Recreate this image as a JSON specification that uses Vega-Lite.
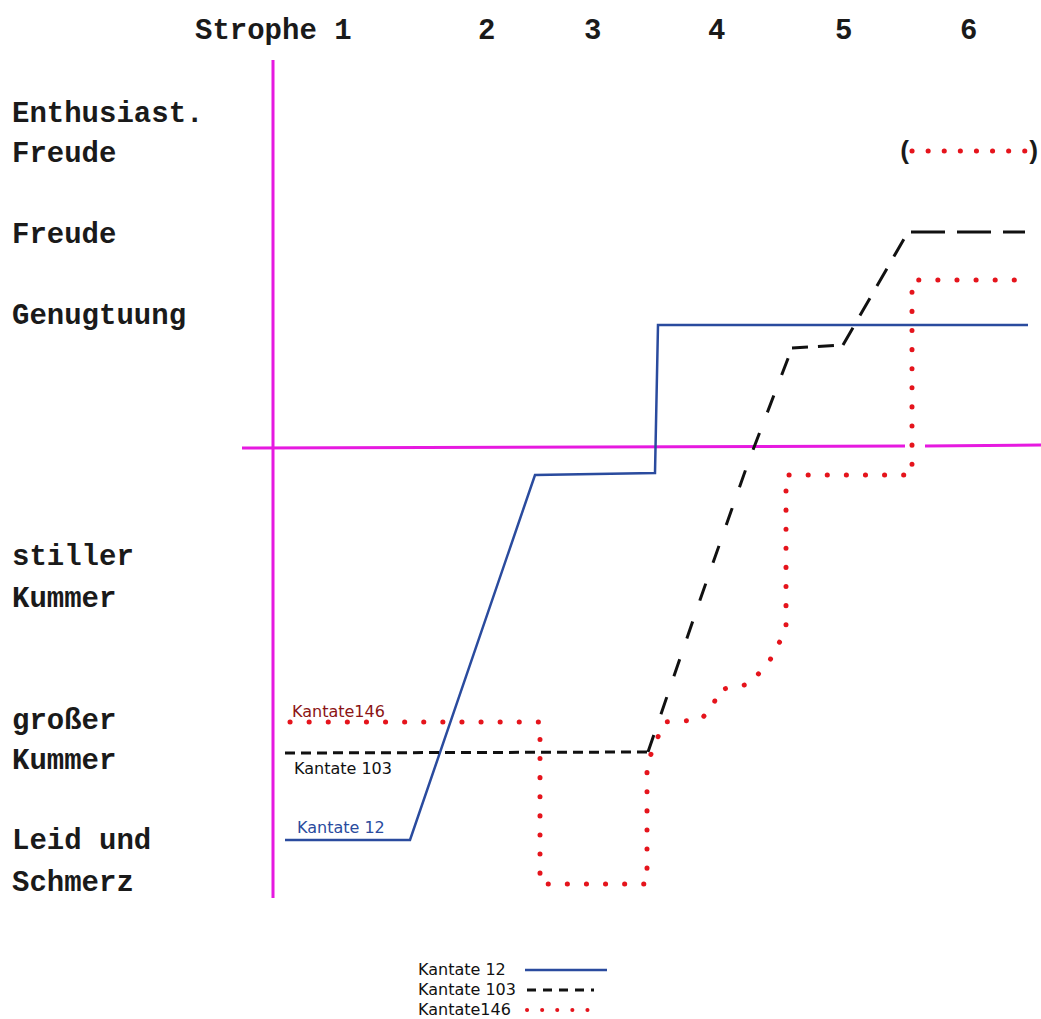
{
  "$schema": "https://vega.github.io/schema/vega-lite/v6.json",
  "autosize": {"type": "fit", "contains": "padding"},
  "width": 1041,
  "height": 1019,
  "padding": 0,
  "background": "white",
  "config": {"view": {"stroke": null}},
  "datasets": {
    "axes": [
      {"x": 273, "y": 60, "x2": 273, "y2": 898},
      {"x": 242, "y": 448, "x2": 905, "y2": 446},
      {"x": 925, "y": 446, "x2": 1041, "y2": 445}
    ],
    "lines": [
      {"s": "k12", "i": 1, "x": 285, "y": 840},
      {"s": "k12", "i": 2, "x": 410, "y": 840},
      {"s": "k12", "i": 3, "x": 535, "y": 475},
      {"s": "k12", "i": 4, "x": 655, "y": 473},
      {"s": "k12", "i": 5, "x": 658, "y": 325},
      {"s": "k12", "i": 6, "x": 1028, "y": 325},
      {"s": "lk12", "i": 1, "x": 525, "y": 970},
      {"s": "lk12", "i": 2, "x": 607, "y": 970}
    ],
    "dashed": [
      {"s": "a", "i": 1, "x": 285, "y": 753},
      {"s": "a", "i": 2, "x": 648, "y": 752},
      {"s": "b", "i": 1, "x": 648, "y": 752},
      {"s": "b", "i": 2, "x": 700, "y": 600},
      {"s": "b", "i": 3, "x": 748, "y": 463},
      {"s": "b", "i": 4, "x": 792, "y": 348},
      {"s": "c", "i": 1, "x": 792, "y": 348},
      {"s": "c", "i": 2, "x": 843, "y": 345},
      {"s": "d", "i": 1, "x": 843, "y": 345},
      {"s": "d", "i": 2, "x": 908, "y": 232},
      {"s": "e", "i": 1, "x": 911, "y": 232},
      {"s": "e", "i": 2, "x": 1025, "y": 232},
      {"s": "leg", "i": 1, "x": 527, "y": 990},
      {"s": "leg", "i": 2, "x": 594, "y": 990}
    ],
    "dotted": [
      {"s": "k146", "i": 1, "x": 290, "y": 722},
      {"s": "k146", "i": 2, "x": 540, "y": 722},
      {"s": "k146", "i": 3, "x": 540, "y": 884},
      {"s": "k146", "i": 4, "x": 647, "y": 884},
      {"s": "k146", "i": 5, "x": 647, "y": 764},
      {"s": "k146", "i": 6, "x": 664, "y": 722},
      {"s": "k146", "i": 7, "x": 700, "y": 720},
      {"s": "k146", "i": 8, "x": 713, "y": 707},
      {"s": "k146", "i": 9, "x": 718, "y": 690},
      {"s": "k146", "i": 10, "x": 750, "y": 684},
      {"s": "k146", "i": 11, "x": 770, "y": 660},
      {"s": "k146", "i": 12, "x": 786, "y": 630},
      {"s": "k146", "i": 13, "x": 786, "y": 475},
      {"s": "k146", "i": 14, "x": 912, "y": 475},
      {"s": "k146", "i": 15, "x": 912, "y": 280},
      {"s": "k146", "i": 16, "x": 1030, "y": 280},
      {"s": "k146e", "i": 1, "x": 912, "y": 151},
      {"s": "k146e", "i": 2, "x": 1028, "y": 151},
      {"s": "leg", "i": 1, "x": 527, "y": 1010},
      {"s": "leg", "i": 2, "x": 602, "y": 1010}
    ],
    "mono": [
      {"t": "Strophe 1", "x": 195, "y": 30},
      {"t": "2", "x": 478, "y": 30},
      {"t": "3", "x": 584, "y": 30},
      {"t": "4", "x": 708, "y": 30},
      {"t": "5", "x": 835, "y": 30},
      {"t": "6", "x": 960, "y": 30},
      {"t": "Enthusiast.", "x": 12, "y": 113},
      {"t": "Freude", "x": 12, "y": 153},
      {"t": "Freude", "x": 12, "y": 234},
      {"t": "Genugtuung", "x": 12, "y": 315},
      {"t": "stiller", "x": 12, "y": 556},
      {"t": "Kummer", "x": 12, "y": 598},
      {"t": "großer", "x": 12, "y": 720},
      {"t": "Kummer", "x": 12, "y": 760},
      {"t": "Leid und", "x": 12, "y": 840},
      {"t": "Schmerz", "x": 12, "y": 882}
    ],
    "parenL": [
      {"t": "(", "x": 905, "y": 151}
    ],
    "parenR": [
      {"t": ")", "x": 1041, "y": 151}
    ],
    "sans": [
      {"t": "Kantate146", "x": 292, "y": 712, "c": "k146"},
      {"t": "Kantate 103", "x": 294, "y": 769, "c": "k103"},
      {"t": "Kantate 12", "x": 297, "y": 828, "c": "k12"},
      {"t": "Kantate 12", "x": 418, "y": 970, "c": "leg"},
      {"t": "Kantate 103", "x": 418, "y": 990, "c": "leg"},
      {"t": "Kantate146", "x": 418, "y": 1010, "c": "leg"}
    ]
  },
  "resolve": {"scale": {"color": "independent", "strokeDash": "independent"}},
  "layer": [
    {
      "data": {"name": "axes"},
      "mark": {"type": "rule", "color": "#e619e0", "strokeWidth": 3, "clip": true},
      "encoding": {
        "x": {"field": "x", "type": "quantitative", "scale": {"domain": [0, 1041], "nice": false, "zero": false}, "axis": null},
        "y": {"field": "y", "type": "quantitative", "scale": {"domain": [0, 1019], "nice": false, "zero": false, "reverse": true}, "axis": null},
        "x2": {"field": "x2"},
        "y2": {"field": "y2"}
      }
    },
    {
      "data": {"name": "lines"},
      "mark": {"type": "line", "color": "#2a4b9e", "strokeWidth": 2.5},
      "encoding": {
        "x": {"field": "x", "type": "quantitative"},
        "y": {"field": "y", "type": "quantitative"},
        "detail": {"field": "s"},
        "order": {"field": "i"}
      }
    },
    {
      "data": {"name": "dashed"},
      "mark": {"type": "line", "color": "#111111", "strokeWidth": 3},
      "encoding": {
        "x": {"field": "x", "type": "quantitative"},
        "y": {"field": "y", "type": "quantitative"},
        "strokeDash": {"field": "s", "type": "nominal", "legend": null, "scale": {"domain": ["a", "b", "c", "d", "e", "leg"], "range": [[10, 6], [18, 22], [16, 10], [20, 14], [34, 12], [9, 7]]}},
        "strokeWidth": {"condition": {"test": "datum.s == 'leg'", "value": 2}, "value": 3},
        "order": {"field": "i"}
      }
    },
    {
      "data": {"name": "dotted"},
      "mark": {"type": "line", "color": "#e5141c", "strokeCap": "round", "strokeJoin": "round"},
      "encoding": {
        "x": {"field": "x", "type": "quantitative"},
        "y": {"field": "y", "type": "quantitative"},
        "detail": {"field": "s"},
        "strokeDash": {"field": "s", "type": "nominal", "legend": null, "scale": {"domain": ["k146", "k146e", "leg"], "range": [[0.1, 19], [0.1, 16], [0.1, 15]]}},
        "strokeWidth": {"condition": {"test": "datum.s == 'leg'", "value": 4}, "value": 5},
        "order": {"field": "i"}
      }
    },
    {
      "data": {"name": "mono"},
      "mark": {"type": "text", "font": "Liberation Mono", "fontSize": 29, "fontWeight": "bold", "align": "left", "baseline": "middle", "color": "#1a1a1a", "clip": true},
      "encoding": {
        "x": {"field": "x", "type": "quantitative"},
        "y": {"field": "y", "type": "quantitative"},
        "text": {"field": "t"}
      }
    },
    {
      "data": {"name": "parenL"},
      "mark": {"type": "text", "font": "Liberation Mono", "fontSize": 26, "fontWeight": "bold", "align": "center", "baseline": "middle", "color": "#1a1a1a", "clip": true},
      "encoding": {
        "x": {"field": "x", "type": "quantitative"},
        "y": {"field": "y", "type": "quantitative"},
        "text": {"field": "t"}
      }
    },
    {
      "data": {"name": "parenR"},
      "mark": {"type": "text", "font": "Liberation Mono", "fontSize": 26, "fontWeight": "bold", "align": "right", "baseline": "middle", "color": "#1a1a1a", "clip": true},
      "encoding": {
        "x": {"field": "x", "type": "quantitative"},
        "y": {"field": "y", "type": "quantitative"},
        "text": {"field": "t"}
      }
    },
    {
      "data": {"name": "sans"},
      "mark": {"type": "text", "font": "DejaVu Sans", "fontSize": 16, "align": "left", "baseline": "middle", "clip": true},
      "encoding": {
        "x": {"field": "x", "type": "quantitative"},
        "y": {"field": "y", "type": "quantitative"},
        "text": {"field": "t"},
        "color": {"field": "c", "type": "nominal", "scale": {"domain": ["k146", "k103", "k12", "leg"], "range": ["#8b1414", "#111111", "#2a4b9e", "#111111"]}, "legend": null}
      }
    }
  ]
}
